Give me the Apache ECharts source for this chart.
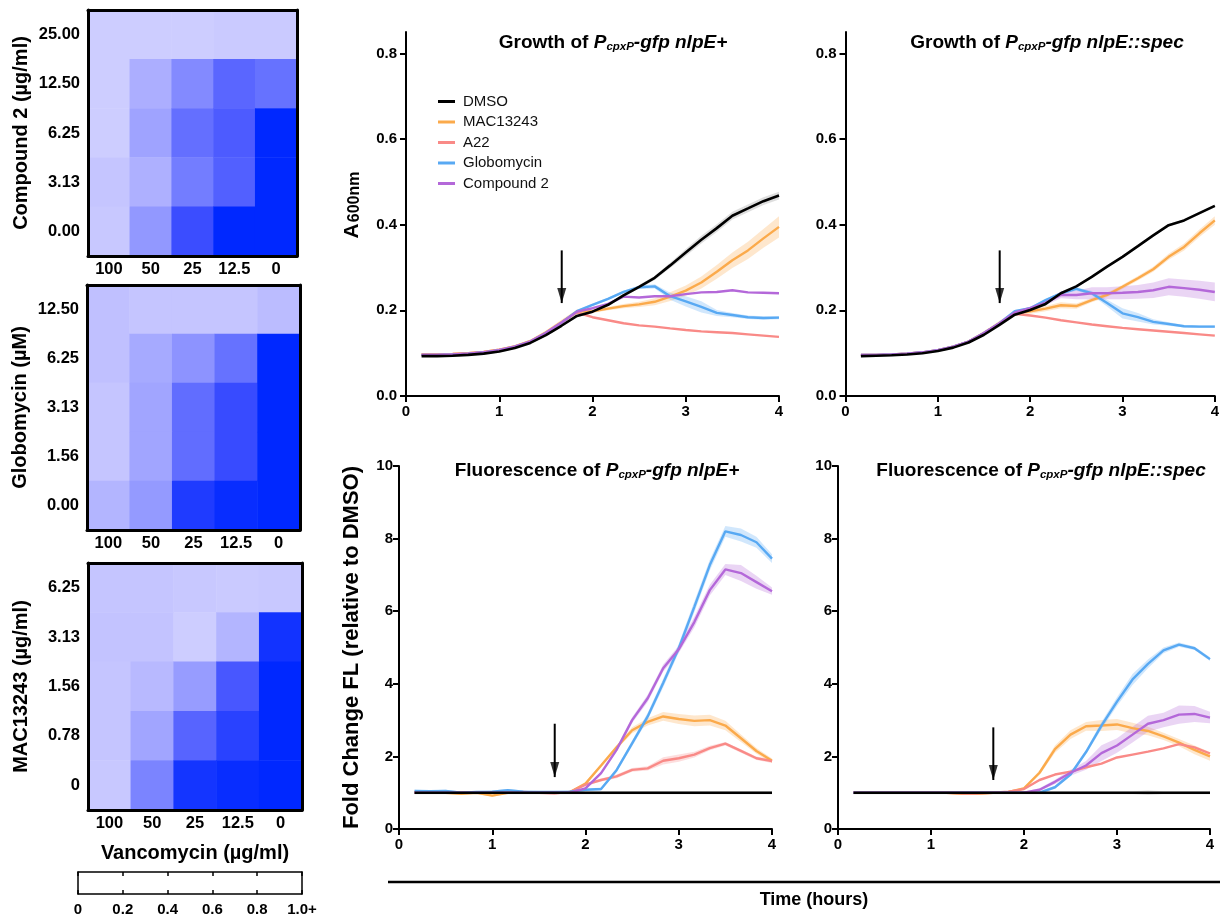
<!DOCTYPE html>
<html><head><meta charset="utf-8">
<script src="https://cdn.jsdelivr.net/npm/echarts@6/dist/echarts.min.js"></script>
<style>html,body{margin:0;padding:0;background:#fff}#c{width:1222px;height:918px}</style>
</head><body><div id="c"></div><script>
const FONT = '"Liberation Sans", Arial, Helvetica, sans-serif';

// ---------- data ----------
const hours = [0.167,0.333,0.5,0.667,0.833,1.0,1.167,1.333,1.5,1.667,1.833,2.0,2.167,2.333,2.5,2.667,2.833,3.0,3.167,3.333,3.5,3.667,3.833,4.0];
const seriesNames = ['DMSO','MAC13243','A22','Globomycin','Compound 2'];

// Growth (A600) nlpE+
const gPlusDMSO = [0.093,0.093,0.094,0.096,0.099,0.104,0.112,0.124,0.142,0.164,0.187,0.197,0.213,0.235,0.255,0.276,0.305,0.335,0.365,0.392,0.421,0.438,0.455,0.468];
const gPlusMAC  = [0.097,0.097,0.098,0.100,0.103,0.108,0.116,0.128,0.148,0.172,0.197,0.198,0.204,0.210,0.214,0.220,0.232,0.246,0.265,0.290,0.317,0.340,0.368,0.395];
const gPlusA22  = [0.097,0.097,0.098,0.100,0.103,0.108,0.116,0.128,0.148,0.172,0.195,0.184,0.177,0.170,0.165,0.162,0.158,0.154,0.151,0.149,0.147,0.144,0.141,0.138];
const gPlusGlob = [0.096,0.096,0.097,0.099,0.102,0.107,0.115,0.127,0.147,0.171,0.198,0.213,0.227,0.243,0.254,0.256,0.233,0.221,0.208,0.194,0.189,0.184,0.182,0.183];
const gPlusC2   = [0.096,0.096,0.097,0.099,0.102,0.107,0.115,0.127,0.147,0.171,0.197,0.205,0.215,0.232,0.230,0.233,0.233,0.238,0.242,0.243,0.247,0.242,0.241,0.240];
const gPlusErrDMSO = [0.002,0.002,0.002,0.002,0.002,0.002,0.002,0.002,0.003,0.003,0.003,0.003,0.003,0.004,0.004,0.005,0.006,0.008,0.009,0.009,0.009,0.009,0.009,0.009];
const gPlusErrMAC  = [0.002,0.002,0.002,0.002,0.002,0.002,0.003,0.004,0.005,0.006,0.005,0.004,0.004,0.005,0.006,0.008,0.010,0.012,0.014,0.016,0.018,0.020,0.022,0.025];
const gPlusErrGlob = [0.002,0.002,0.002,0.002,0.002,0.002,0.002,0.002,0.003,0.003,0.003,0.003,0.003,0.003,0.004,0.005,0.008,0.012,0.013,0.007,0.005,0.004,0.004,0.004];

// Growth (A600) nlpE::spec
const gSpecDMSO = [0.093,0.094,0.095,0.097,0.100,0.105,0.113,0.125,0.143,0.166,0.190,0.201,0.215,0.240,0.256,0.278,0.302,0.325,0.350,0.375,0.399,0.410,0.427,0.444];
const gSpecMAC  = [0.096,0.096,0.097,0.099,0.102,0.107,0.115,0.127,0.147,0.170,0.193,0.198,0.204,0.212,0.210,0.224,0.236,0.255,0.275,0.296,0.325,0.348,0.380,0.410];
const gSpecA22  = [0.096,0.096,0.097,0.099,0.102,0.107,0.115,0.127,0.147,0.170,0.192,0.188,0.183,0.177,0.172,0.167,0.163,0.159,0.156,0.153,0.150,0.147,0.144,0.141];
const gSpecGlob = [0.096,0.096,0.097,0.099,0.102,0.107,0.115,0.127,0.147,0.170,0.198,0.205,0.224,0.240,0.250,0.240,0.217,0.193,0.184,0.173,0.168,0.163,0.162,0.162];
const gSpecC2   = [0.096,0.096,0.097,0.099,0.102,0.107,0.115,0.127,0.147,0.170,0.195,0.205,0.218,0.236,0.236,0.240,0.240,0.241,0.243,0.247,0.255,0.252,0.248,0.243];
const gSpecErrDMSO = [0.002,0.002,0.002,0.002,0.002,0.002,0.002,0.002,0.003,0.004,0.004,0.003,0.003,0.003,0.003,0.003,0.003,0.003,0.003,0.003,0.003,0.003,0.003,0.003];
const gSpecErrMAC  = [0.002,0.002,0.002,0.002,0.002,0.002,0.003,0.004,0.005,0.006,0.006,0.006,0.006,0.007,0.006,0.005,0.005,0.005,0.005,0.006,0.007,0.008,0.009,0.010];
const gSpecErrGlob = [0.002,0.002,0.002,0.002,0.002,0.002,0.002,0.002,0.003,0.003,0.003,0.003,0.003,0.003,0.004,0.005,0.008,0.012,0.010,0.006,0.004,0.003,0.003,0.003];
const gSpecErrC2   = [0.002,0.002,0.002,0.002,0.002,0.002,0.002,0.002,0.003,0.003,0.003,0.004,0.006,0.008,0.010,0.014,0.014,0.015,0.016,0.018,0.020,0.020,0.021,0.022];

// Fluorescence fold change nlpE+
const fPlusDMSO = [1.0,1.0,1.0,1.0,1.0,1.0,1.0,1.0,1.0,1.0,1.0,1.0,1.0,1.0,1.0,1.0,1.0,1.0,1.0,1.0,1.0,1.0,1.0,1.0];
const fPlusMAC  = [1.02,1.0,1.0,0.97,1.0,0.92,1.0,1.0,1.0,1.0,1.02,1.25,1.75,2.25,2.72,2.95,3.1,3.03,2.98,3.0,2.85,2.5,2.15,1.88];
const fPlusA22  = [1.0,1.0,1.0,1.0,1.0,1.0,1.0,1.02,1.0,0.98,1.02,1.22,1.35,1.45,1.63,1.67,1.88,1.95,2.05,2.23,2.35,2.15,1.95,1.87];
const fPlusGlob = [1.05,1.04,1.05,1.0,1.02,1.03,1.07,1.03,1.02,1.02,1.03,1.08,1.1,1.62,2.36,3.1,4.02,4.98,6.12,7.27,8.2,8.1,7.9,7.45];
const fPlusC2   = [1.0,1.0,1.0,1.0,1.0,1.0,1.0,1.0,1.0,1.0,1.0,1.12,1.54,2.18,3.0,3.6,4.43,4.95,5.7,6.58,7.15,7.05,6.8,6.55];
const fPlusErrDMSO = [0.04,0.04,0.04,0.04,0.04,0.04,0.04,0.04,0.04,0.04,0.04,0.04,0.04,0.04,0.04,0.04,0.04,0.04,0.04,0.04,0.04,0.04,0.04,0.04];
const fPlusErrMAC  = [0.03,0.03,0.03,0.03,0.03,0.03,0.03,0.03,0.03,0.03,0.03,0.04,0.05,0.06,0.08,0.10,0.12,0.14,0.15,0.15,0.13,0.10,0.08,0.06];
const fPlusErrA22  = [0.03,0.03,0.03,0.03,0.03,0.03,0.03,0.03,0.03,0.03,0.03,0.04,0.04,0.05,0.05,0.06,0.10,0.10,0.08,0.06,0.05,0.05,0.05,0.05];
const fPlusErrGlob = [0.03,0.03,0.03,0.03,0.03,0.03,0.03,0.03,0.03,0.03,0.03,0.03,0.04,0.06,0.08,0.10,0.12,0.12,0.15,0.15,0.15,0.18,0.15,0.12];
const fPlusErrC2   = [0.03,0.03,0.03,0.03,0.03,0.03,0.03,0.03,0.03,0.03,0.03,0.03,0.04,0.06,0.08,0.10,0.10,0.10,0.15,0.15,0.15,0.22,0.18,0.10];

// Fluorescence fold change nlpE::spec
const fSpecDMSO = [1.0,1.0,1.0,1.0,1.0,1.0,1.0,1.0,1.0,1.0,1.0,1.0,1.0,1.0,1.0,1.0,1.0,1.0,1.0,1.0,1.0,1.0,1.0,1.0];
const fSpecMAC  = [1.0,1.0,1.0,1.0,1.0,1.0,1.0,0.97,0.97,1.0,1.02,1.12,1.55,2.2,2.6,2.83,2.85,2.88,2.78,2.7,2.55,2.38,2.18,2.0];
const fSpecA22  = [1.0,1.0,1.0,1.0,1.0,1.0,1.0,0.98,0.98,1.0,1.03,1.1,1.35,1.5,1.58,1.7,1.8,1.97,2.05,2.13,2.22,2.34,2.25,2.08];
const fSpecGlob = [1.0,1.0,1.0,1.0,1.0,1.0,1.0,1.0,1.0,1.0,1.0,1.0,1.0,1.15,1.5,2.12,2.85,3.51,4.12,4.55,4.92,5.08,4.98,4.68];
const fSpecC2   = [1.0,1.0,1.0,1.0,1.0,1.0,1.0,1.0,1.0,1.0,1.0,1.0,1.08,1.3,1.55,1.75,2.09,2.3,2.6,2.9,3.0,3.15,3.17,3.07];
const fSpecErrDMSO = [0.04,0.04,0.04,0.04,0.04,0.04,0.04,0.04,0.04,0.04,0.04,0.04,0.04,0.04,0.04,0.04,0.04,0.04,0.04,0.06,0.04,0.04,0.04,0.04];
const fSpecErrMAC  = [0.03,0.03,0.03,0.03,0.03,0.03,0.03,0.03,0.03,0.03,0.03,0.04,0.06,0.10,0.12,0.12,0.15,0.15,0.15,0.12,0.10,0.10,0.12,0.12];
const fSpecErrGlob = [0.03,0.03,0.03,0.03,0.03,0.03,0.03,0.03,0.03,0.03,0.03,0.03,0.03,0.04,0.05,0.06,0.10,0.12,0.15,0.12,0.08,0.06,0.05,0.05];
const fSpecErrC2   = [0.03,0.03,0.03,0.03,0.03,0.03,0.03,0.03,0.03,0.03,0.03,0.03,0.04,0.06,0.08,0.12,0.22,0.20,0.22,0.22,0.20,0.25,0.22,0.16];

// Arrows marking drug addition: [x, yStart, yTip]
const arrowGrowth = [1.67, 0.34, 0.217];
const arrowFluorPlus = [1.67, 2.90, 1.43];
const arrowFluorSpec = [1.67, 2.80, 1.35];

// Checkerboard heatmaps (rows top->bottom, cols = vancomycin)
const vancoLabels = ['100','50','25','12.5','0'];
const compound2Labels = ['25.00','12.50','6.25','3.13','0.00'];
const globoLabels = ['12.50','6.25','3.13','1.56','0.00'];
const macLabels = ['6.25','3.13','1.56','0.78','0'];
const compound2Grid = [
  [0.20,0.20,0.20,0.21,0.21],
  [0.20,0.33,0.49,0.65,0.60],
  [0.20,0.38,0.61,0.70,1.00],
  [0.23,0.32,0.55,0.68,1.00],
  [0.22,0.43,0.77,1.00,1.00]];
const globoGrid = [
  [0.25,0.23,0.23,0.23,0.27],
  [0.25,0.35,0.45,0.60,1.00],
  [0.23,0.37,0.62,0.78,1.00],
  [0.23,0.37,0.62,0.78,1.00],
  [0.30,0.42,0.88,0.97,1.00]];
const macGrid = [
  [0.23,0.23,0.22,0.21,0.22],
  [0.24,0.24,0.20,0.30,0.93],
  [0.23,0.28,0.41,0.72,1.00],
  [0.23,0.37,0.66,0.84,1.00],
  [0.22,0.52,0.92,0.97,1.00]];
const colorbarTicks = [0,0.2,0.4,0.6,0.8,1.0];

// ---------- styles ----------
const colors = {'DMSO':'#000000','MAC13243':'#fbaa4b','A22':'#f98a87','Globomycin':'#58a9f3','Compound 2':'#b468d9'};
const axisLbl = {color:'#000', fontWeight:'bold', fontSize:15, fontFamily:FONT};

const grids = [
  {left:406, top:32, width:373, height:364},
  {left:845.5, top:32, width:372, height:364},
  {left:399, top:466, width:373, height:363},
  {left:838, top:466, width:372, height:363},
  {left:88, top:10, width:209, height:246},
  {left:87, top:285, width:213, height:245},
  {left:88, top:563, width:214, height:247},
  {left:78, top:872, width:224, height:22}
];

const xAxes = [], yAxes = [], series = [];

function timeX(g){
  return {type:'value', gridIndex:g, min:0, max:4, interval:1,
    axisLine:{show:true, lineStyle:{color:'#000', width:2}},
    axisTick:{show:true, length:6, lineStyle:{color:'#000', width:2}},
    axisLabel:Object.assign({margin:8}, axisLbl), splitLine:{show:false}};
}
function growthY(g, withName){
  const o = {type:'value', gridIndex:g, min:0, max:0.85, interval:0.2,
    axisLine:{show:true, lineStyle:{color:'#000', width:2}},
    axisTick:{show:true, length:6, lineStyle:{color:'#000', width:2}, customValues:[0,0.2,0.4,0.6,0.8]},
    axisLabel:Object.assign({margin:9, customValues:[0,0.2,0.4,0.6,0.8], formatter:v=>v.toFixed(1)}, axisLbl),
    splitLine:{show:false}};
  if (withName){
    o.name = '{a|A}{b|600nm}'; o.nameLocation='middle'; o.nameGap=43; o.nameRotate=90;
    o.nameTextStyle = {padding:[0,0,0,18], rich:{
      a:{fontSize:21,fontWeight:'bold',fontFamily:FONT,color:'#000',verticalAlign:'bottom',lineHeight:22},
      b:{fontSize:16,fontWeight:'bold',fontFamily:FONT,color:'#000',verticalAlign:'bottom',lineHeight:22, padding:[0,0,0,1]}}};
  }
  return o;
}
function fluorY(g, withName){
  const o = {type:'value', gridIndex:g, min:0, max:10, interval:2,
    axisLine:{show:true, lineStyle:{color:'#000', width:2}},
    axisTick:{show:true, length:6, lineStyle:{color:'#000', width:2}},
    axisLabel:Object.assign({margin:6}, axisLbl), splitLine:{show:false}};
  if (withName){
    o.name = 'Fold Change FL (relative to DMSO)'; o.nameLocation='middle'; o.nameGap=36; o.nameRotate=90;
    o.nameTextStyle = {fontSize:22, fontWeight:'bold', fontFamily:FONT, color:'#000'};
  }
  return o;
}

function bandRender(params, api){
  if (params.dataIndexInside !== 0) return null;
  const n = params.dataInsideLength;
  const up = [], lo = [];
  for (let i = 0; i < n; i++){
    const x = api.value(0, i);
    up.push(api.coord([x, api.value(2, i)]));
    lo.push(api.coord([x, api.value(1, i)]));
  }
  return {type:'polygon', shape:{points: up.concat(lo.reverse())}, style:{fill: api.visual('color'), opacity: 0.28}};
}

function addLineChart(g, yAxisObj, sets, bands, arrow){
  xAxes.push(timeX(g)); yAxes.push(yAxisObj);
  const ax = xAxes.length - 1;
  bands.forEach(([name, vals, err]) => {
    series.push({type:'custom', xAxisIndex:ax, yAxisIndex:ax, silent:true, z:1, renderItem:bandRender,
      itemStyle:{color: name==='DMSO' ? '#888888' : colors[name]},
      encode:{x:0, y:[1,2]},
      data: vals.map((v,i)=>[hours[i], v - err[i], v + err[i]])});
  });
  const order = ['MAC13243','A22','Globomycin','Compound 2','DMSO'];
  order.forEach(name => {
    const vals = sets[name];
    series.push({type:'line', name, xAxisIndex:ax, yAxisIndex:ax, symbol:'none', z: name==='DMSO'?4:3,
      lineStyle:{color:colors[name], width: name==='DMSO'?2.6:2.4}, itemStyle:{color:colors[name]},
      emphasis:{disabled:true}, data: vals.map((v,i)=>[hours[i], v])});
  });
  series.push({type:'line', xAxisIndex:ax, yAxisIndex:ax, symbol:'none', silent:true, z:5,
    lineStyle:{color:'#000', width:2}, data:[[arrow[0], arrow[1]], [arrow[0], arrow[2]]]});
  series.push({type:'scatter', xAxisIndex:ax, yAxisIndex:ax, silent:true, z:5,
    symbol:'path://M0,0L10,0L5,16Z', symbolSize:[9,15], symbolOffset:[0,'-50%'],
    itemStyle:{color:'#000'}, data:[[arrow[0], arrow[2]]]});
}

addLineChart(0, growthY(0, true),
  {'DMSO':gPlusDMSO,'MAC13243':gPlusMAC,'A22':gPlusA22,'Globomycin':gPlusGlob,'Compound 2':gPlusC2},
  [['DMSO',gPlusDMSO,gPlusErrDMSO],['MAC13243',gPlusMAC,gPlusErrMAC],['Globomycin',gPlusGlob,gPlusErrGlob]],
  arrowGrowth);
addLineChart(1, growthY(1, false),
  {'DMSO':gSpecDMSO,'MAC13243':gSpecMAC,'A22':gSpecA22,'Globomycin':gSpecGlob,'Compound 2':gSpecC2},
  [['DMSO',gSpecDMSO,gSpecErrDMSO],['MAC13243',gSpecMAC,gSpecErrMAC],['Globomycin',gSpecGlob,gSpecErrGlob],['Compound 2',gSpecC2,gSpecErrC2]],
  arrowGrowth);
addLineChart(2, fluorY(2, true),
  {'DMSO':fPlusDMSO,'MAC13243':fPlusMAC,'A22':fPlusA22,'Globomycin':fPlusGlob,'Compound 2':fPlusC2},
  [['DMSO',fPlusDMSO,fPlusErrDMSO],['MAC13243',fPlusMAC,fPlusErrMAC],['A22',fPlusA22,fPlusErrA22],['Globomycin',fPlusGlob,fPlusErrGlob],['Compound 2',fPlusC2,fPlusErrC2]],
  arrowFluorPlus);
addLineChart(3, fluorY(3, false),
  {'DMSO':fSpecDMSO,'MAC13243':fSpecMAC,'A22':fSpecA22,'Globomycin':fSpecGlob,'Compound 2':fSpecC2},
  [['DMSO',fSpecDMSO,fSpecErrDMSO],['MAC13243',fSpecMAC,fSpecErrMAC],['Globomycin',fSpecGlob,fSpecErrGlob],['Compound 2',fSpecC2,fSpecErrC2]],
  arrowFluorSpec);

// heatmaps
const heatIdx = [];
const hmLbl = {color:'#000', fontWeight:'bold', fontSize:16.5, fontFamily:FONT};
function addHeatmap(g, rowLabels, grid, yName, xName){
  const border = {show:true, lineStyle:{color:'#000', width:3}};
  const xa = {type:'category', gridIndex:g, data:vancoLabels, position:'bottom', z:10,
    axisLine:border, axisTick:{show:false}, axisLabel:Object.assign({margin:5, interval:0, hideOverlap:false}, hmLbl), splitLine:{show:false}};
  if (xName){ xa.name = xName; xa.nameLocation='middle'; xa.nameGap=33;
    xa.nameTextStyle = {fontSize:20, fontWeight:'bold', fontFamily:FONT, color:'#000'}; }
  xAxes.push(xa);
  const ya = {type:'category', gridIndex:g, data:rowLabels, inverse:true, position:'left', z:10,
    axisLine:border, axisTick:{show:false}, axisLabel:Object.assign({margin:8, interval:0}, hmLbl), splitLine:{show:false},
    name:yName, nameLocation:'middle', nameGap:57, nameRotate:90,
    nameTextStyle:{fontSize:20, fontWeight:'bold', fontFamily:FONT, color:'#000'}};
  yAxes.push(ya);
  const ai = xAxes.length - 1;
  xAxes.push({type:'category', gridIndex:g, data:vancoLabels, position:'top', z:10,
    axisLine:border, axisTick:{show:false}, axisLabel:{show:false}});
  yAxes.push({type:'category', gridIndex:g, data:rowLabels, inverse:true, position:'right', z:10,
    axisLine:border, axisTick:{show:false}, axisLabel:{show:false}});
  const data = [];
  grid.forEach((row, r) => row.forEach((v, c) => data.push([c, r, v])));
  heatIdx.push(series.length);
  series.push({type:'heatmap', xAxisIndex:ai, yAxisIndex:ai, data, silent:true, emphasis:{disabled:true}, itemStyle:{borderWidth:0}});
}
addHeatmap(4, compound2Labels, compound2Grid, 'Compound 2 (µg/ml)', null);
addHeatmap(5, globoLabels, globoGrid, 'Globomycin (µM)', null);
addHeatmap(6, macLabels, macGrid, 'MAC13243 (µg/ml)', 'Vancomycin (µg/ml)');

// colorbar frame (blank scale bar)
const cbLine = {show:true, onZero:false, lineStyle:{color:'#000', width:1.5}};
const cbTick = {show:true, inside:true, length:4, lineStyle:{color:'#000', width:1.5}, customValues:colorbarTicks};
xAxes.push({type:'value', gridIndex:7, min:0, max:1, interval:0.2, position:'bottom',
  axisLine:cbLine, axisTick:cbTick,
  axisLabel:Object.assign({margin:8, customValues:colorbarTicks, formatter:v=> v===0?'0':(v>=1?'1.0+':v.toFixed(1))}, axisLbl),
  splitLine:{show:false}});
yAxes.push({type:'value', gridIndex:7, min:0, max:1, position:'left', axisLine:cbLine, axisTick:{show:false}, axisLabel:{show:false}, splitLine:{show:false}});
const cbA = xAxes.length - 1;
xAxes.push({type:'value', gridIndex:7, min:0, max:1, interval:0.2, position:'top',
  axisLine:cbLine, axisTick:cbTick, axisLabel:{show:false}, splitLine:{show:false}});
yAxes.push({type:'value', gridIndex:7, min:0, max:1, position:'right', axisLine:cbLine, axisTick:{show:false}, axisLabel:{show:false}, splitLine:{show:false}});
const cbB = xAxes.length - 1;
series.push({type:'line', xAxisIndex:cbA, yAxisIndex:cbA, data:[], symbol:'none'});
series.push({type:'line', xAxisIndex:cbB, yAxisIndex:cbB, data:[], symbol:'none'});

// titles
const rich = {
  n:{fontSize:19, fontWeight:'bold', fontFamily:FONT, fill:'#000', lineHeight:22},
  i:{fontSize:19, fontWeight:'bold', fontStyle:'italic', fontFamily:FONT, fill:'#000', lineHeight:22},
  s:{fontSize:11.5, fontWeight:'bold', fontStyle:'italic', fontFamily:FONT, fill:'#000', lineHeight:22, verticalAlign:'bottom', padding:[0,0,1,0]}
};
function titleEl(x, y, pre, strain){
  return {type:'text', x, y, silent:true, z:20, style:{text:'{n|'+pre+'}{i|P}{s|cpxP}{i|-gfp '+strain+'}', rich, align:'center', verticalAlign:'middle'}};
}

const option = {
  animation:false,
  backgroundColor:'#ffffff',
  grid: grids,
  xAxis: xAxes,
  yAxis: yAxes,
  legend: {data:seriesNames, left:433, top:89, orient:'vertical', icon:'rect', itemWidth:17, itemHeight:3, itemGap:5.5,
    selectedMode:false, textStyle:{fontSize:15, fontFamily:FONT, color:'#111', lineHeight:15, padding:[0,0,0,3]}},
  visualMap: {type:'continuous', show:false, min:0, max:1, seriesIndex:heatIdx,
    inRange:{color:['#ffffff','#c0c0ff','#8088ff','#4050ff','#0028ff']}},
  series,
  graphic: [
    titleEl(613, 43, 'Growth of ', 'nlpE+'),
    titleEl(1047, 43, 'Growth of ', 'nlpE::spec'),
    titleEl(597, 471, 'Fluorescence of ', 'nlpE+'),
    titleEl(1041, 471, 'Fluorescence of ', 'nlpE::spec'),
    {type:'line', silent:true, shape:{x1:388, y1:882, x2:1220, y2:882}, style:{stroke:'#000', lineWidth:2.5}},
    {type:'text', x:814, y:900, silent:true, style:{text:'Time (hours)', font:'bold 18px '+FONT, fill:'#000', align:'center', verticalAlign:'middle'}}
  ]
};
const chart = echarts.init(document.getElementById('c'), null, {renderer:'canvas'});
chart.setOption(option);
</script></body></html>
